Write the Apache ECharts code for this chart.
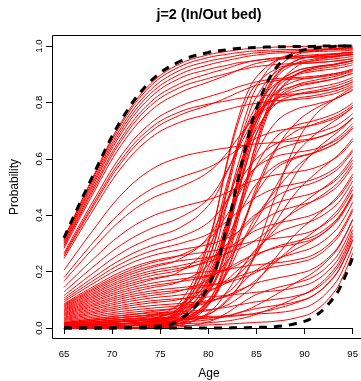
<!DOCTYPE html>
<html>
<head>
<meta charset="utf-8">
<script src="https://cdn.jsdelivr.net/npm/echarts@6/dist/echarts.min.js"></script>
<style>
  html, body { margin: 0; padding: 0; background: #fff; }
  #chart { width: 361px; height: 381px; }
</style>
</head>
<body>
<div id="chart"></div>
<script>
const ages = [65, 68, 71, 74, 77, 80, 82, 83, 84, 85, 87, 89, 91, 93, 94, 95];

// the three black dashed curves
const dashEarly = [0.32, 0.54, 0.74, 0.875, 0.945, 0.977, 0.987, 0.991, 0.993, 0.995, 0.997, 0.998, 0.999, 1, 1, 1];
const dashMiddle = [0, 0, 0.001, 0.005, 0.028, 0.149, 0.368, 0.515, 0.659, 0.779, 0.921, 0.975, 0.992, 0.998, 1, 1];
const dashLate = [0, 0, 0, 0, 0, 0, 0, 0.001, 0.001, 0.002, 0.005, 0.015, 0.04, 0.106, 0.166, 0.251];

// red curves, upper left bundle
const upperCurves = [
  [0.317,0.535,0.733,0.866,0.936,0.969,0.981,0.986,0.990,0.993,0.996,0.998,0.999,1,1,1],
  [0.314,0.529,0.725,0.858,0.926,0.959,0.971,0.976,0.980,0.983,0.986,0.988,0.989,0.991,0.992,0.993],
  [0.309,0.521,0.714,0.844,0.913,0.946,0.959,0.966,0.971,0.976,0.980,0.983,0.985,0.987,0.988,0.989],
  [0.304,0.513,0.703,0.831,0.899,0.933,0.949,0.956,0.963,0.968,0.975,0.977,0.980,0.982,0.983,0.985],
  [0.299,0.505,0.692,0.818,0.885,0.917,0.932,0.940,0.944,0.949,0.955,0.958,0.961,0.964,0.967,0.970],
  [0.293,0.494,0.677,0.801,0.866,0.902,0.921,0.933,0.942,0.949,0.958,0.963,0.965,0.969,0.971,0.974],
  [0.288,0.486,0.666,0.788,0.852,0.885,0.903,0.913,0.920,0.927,0.934,0.938,0.941,0.946,0.950,0.955],
  [0.282,0.475,0.651,0.770,0.834,0.872,0.898,0.913,0.927,0.938,0.951,0.957,0.960,0.964,0.967,0.970],
  [0.266,0.448,0.614,0.726,0.786,0.820,0.841,0.854,0.864,0.873,0.884,0.888,0.893,0.902,0.908,0.918],
  [0.259,0.437,0.599,0.709,0.766,0.794,0.806,0.813,0.817,0.822,0.827,0.830,0.836,0.848,0.858,0.873],
  [0.254,0.429,0.588,0.696,0.754,0.790,0.818,0.834,0.848,0.861,0.877,0.883,0.888,0.897,0.904,0.914],
  [0.246,0.416,0.570,0.674,0.729,0.758,0.775,0.784,0.791,0.797,0.806,0.810,0.817,0.830,0.842,0.858],
  [0.205,0.346,0.474,0.560,0.605,0.628,0.639,0.644,0.649,0.653,0.658,0.664,0.673,0.696,0.716,0.745],
  [0.179,0.302,0.414,0.491,0.533,0.569,0.608,0.632,0.655,0.674,0.698,0.709,0.720,0.741,0.758,0.783],
  [0.166,0.281,0.385,0.457,0.499,0.553,0.623,0.670,0.714,0.751,0.795,0.814,0.824,0.839,0.850,0.865],
  [0.144,0.243,0.333,0.394,0.428,0.455,0.481,0.498,0.513,0.526,0.543,0.553,0.567,0.598,0.625,0.663]
];

// red curves starting between ~0.05 and 0.13
const middleCurves = [
  [0.128,0.216,0.296,0.352,0.391,0.458,0.561,0.628,0.694,0.749,0.814,0.840,0.852,0.865,0.875,0.888],
  [0.115,0.194,0.267,0.318,0.355,0.434,0.557,0.640,0.719,0.786,0.866,0.896,0.910,0.919,0.925,0.933],
  [0.106,0.178,0.244,0.291,0.322,0.374,0.455,0.507,0.559,0.601,0.653,0.675,0.690,0.713,0.733,0.760],
  [0.099,0.167,0.229,0.272,0.299,0.333,0.380,0.410,0.440,0.464,0.496,0.511,0.528,0.562,0.591,0.633],
  [0.093,0.157,0.215,0.255,0.277,0.296,0.319,0.339,0.366,0.401,0.488,0.566,0.621,0.665,0.692,0.725],
  [0.086,0.146,0.200,0.236,0.256,0.271,0.284,0.294,0.301,0.309,0.318,0.328,0.347,0.392,0.433,0.491],
  [0.083,0.140,0.192,0.230,0.257,0.314,0.404,0.464,0.522,0.571,0.629,0.654,0.671,0.695,0.716,0.745],
  [0.080,0.135,0.185,0.219,0.238,0.251,0.266,0.278,0.293,0.314,0.364,0.413,0.453,0.501,0.536,0.585],
  [0.077,0.130,0.178,0.213,0.244,0.323,0.458,0.547,0.633,0.706,0.793,0.827,0.841,0.856,0.867,0.880],
  [0.074,0.124,0.170,0.202,0.221,0.247,0.282,0.305,0.327,0.347,0.370,0.385,0.404,0.446,0.483,0.536],
  [0.070,0.119,0.163,0.194,0.212,0.234,0.265,0.292,0.330,0.380,0.501,0.613,0.684,0.732,0.755,0.783],
  [0.067,0.113,0.155,0.185,0.205,0.242,0.299,0.337,0.374,0.405,0.442,0.462,0.480,0.517,0.550,0.596],
  [0.064,0.108,0.148,0.175,0.190,0.200,0.208,0.214,0.220,0.224,0.231,0.241,0.261,0.312,0.358,0.423],
  [0.061,0.103,0.141,0.170,0.200,0.290,0.446,0.549,0.650,0.734,0.835,0.875,0.888,0.901,0.908,0.918],
  [0.058,0.097,0.133,0.158,0.173,0.187,0.207,0.223,0.246,0.276,0.351,0.421,0.473,0.524,0.559,0.607],
  [0.054,0.092,0.126,0.149,0.164,0.184,0.212,0.231,0.249,0.263,0.284,0.298,0.317,0.365,0.408,0.468],
  [0.051,0.086,0.118,0.142,0.164,0.223,0.324,0.391,0.456,0.511,0.576,0.605,0.622,0.650,0.675,0.708]
];

// red curves starting near zero, rising late
const lowCurves = [
  [0.048,0.081,0.111,0.131,0.143,0.153,0.162,0.172,0.183,0.198,0.238,0.278,0.314,0.368,0.413,0.474],
  [0.045,0.076,0.104,0.123,0.134,0.149,0.167,0.181,0.193,0.203,0.218,0.230,0.250,0.303,0.349,0.416],
  [0.042,0.070,0.096,0.115,0.131,0.172,0.238,0.285,0.328,0.364,0.409,0.431,0.451,0.490,0.525,0.573],
  [0.038,0.065,0.089,0.106,0.117,0.134,0.161,0.186,0.219,0.264,0.375,0.476,0.544,0.599,0.631,0.672],
  [0.035,0.059,0.081,0.096,0.104,0.110,0.116,0.120,0.123,0.127,0.132,0.143,0.165,0.222,0.274,0.348],
  [0.032,0.054,0.074,0.089,0.101,0.128,0.173,0.203,0.232,0.257,0.288,0.306,0.326,0.374,0.416,0.476],
  [0.029,0.049,0.067,0.079,0.087,0.097,0.113,0.127,0.146,0.171,0.234,0.294,0.342,0.401,0.444,0.503],
  [0.026,0.043,0.059,0.070,0.079,0.093,0.116,0.132,0.146,0.160,0.176,0.190,0.212,0.267,0.316,0.386],
  [0.022,0.038,0.052,0.062,0.071,0.090,0.126,0.158,0.204,0.264,0.409,0.541,0.626,0.683,0.711,0.745],
  [0.019,0.032,0.044,0.053,0.058,0.065,0.074,0.081,0.087,0.093,0.102,0.113,0.136,0.195,0.249,0.326],
  [0.016,0.027,0.037,0.045,0.050,0.062,0.082,0.103,0.129,0.163,0.250,0.331,0.391,0.451,0.492,0.546],
  [0.013,0.022,0.030,0.035,0.038,0.041,0.043,0.046,0.048,0.050,0.054,0.064,0.088,0.151,0.208,0.288],
  [0.010,0.016,0.022,0.026,0.029,0.035,0.044,0.053,0.064,0.080,0.118,0.159,0.199,0.261,0.313,0.384],
  [0.006,0.011,0.015,0.018,0.021,0.029,0.042,0.052,0.061,0.069,0.080,0.092,0.117,0.178,0.233,0.311],
  [0.003,0.005,0.007,0.009,0.009,0.011,0.014,0.016,0.018,0.020,0.024,0.035,0.059,0.124,0.183,0.266],
  [0.005,0.008,0.011,0.013,0.015,0.019,0.025,0.031,0.038,0.049,0.075,0.106,0.141,0.205,0.260,0.336],
  [0.011,0.019,0.026,0.031,0.033,0.036,0.040,0.043,0.047,0.053,0.068,0.088,0.117,0.180,0.236,0.314]
];

// red curves around the middle dashed curve
const bandCurves = [
  [0.006,0.011,0.016,0.023,0.046,0.165,0.377,0.520,0.659,0.776,0.913,0.966,0.982,0.989,0.992,0.993],
  [0.013,0.022,0.031,0.040,0.064,0.178,0.381,0.519,0.653,0.764,0.897,0.947,0.964,0.971,0.975,0.978],
  [0.003,0.005,0.008,0.014,0.036,0.152,0.360,0.499,0.636,0.750,0.885,0.937,0.954,0.962,0.967,0.970],
  [0.010,0.016,0.023,0.031,0.053,0.163,0.361,0.494,0.623,0.731,0.859,0.909,0.926,0.935,0.942,0.948],
  [0.019,0.032,0.045,0.057,0.081,0.189,0.379,0.507,0.633,0.738,0.861,0.909,0.926,0.935,0.942,0.948],
  [0.006,0.011,0.016,0.022,0.043,0.148,0.336,0.463,0.587,0.690,0.813,0.860,0.878,0.891,0.900,0.910],
  [0,0,0.001,0.005,0.026,0.137,0.339,0.474,0.606,0.717,0.847,0.898,0.916,0.927,0.933,0.940],
  [0.016,0.027,0.038,0.048,0.070,0.171,0.351,0.472,0.590,0.689,0.806,0.852,0.868,0.882,0.892,0.903],
  [0.003,0.005,0.008,0.013,0.031,0.126,0.297,0.412,0.524,0.618,0.729,0.774,0.792,0.810,0.825,0.843],
  [0.010,0.016,0.023,0.030,0.048,0.133,0.288,0.391,0.491,0.576,0.676,0.717,0.735,0.758,0.775,0.798],
  [0.003,0.005,0.008,0.012,0.026,0.099,0.231,0.319,0.405,0.478,0.565,0.601,0.621,0.650,0.675,0.708],
  [0.006,0.011,0.015,0.020,0.032,0.092,0.197,0.267,0.336,0.395,0.465,0.496,0.516,0.552,0.583,0.626],
  [0,0,0,0.002,0.010,0.054,0.132,0.186,0.238,0.281,0.335,0.361,0.383,0.427,0.466,0.521],
  [0.003,0.005,0.007,0.010,0.016,0.047,0.102,0.140,0.176,0.206,0.244,0.265,0.288,0.338,0.383,0.446],
  [0,0,0,0.001,0.004,0.022,0.055,0.078,0.100,0.119,0.142,0.159,0.183,0.240,0.291,0.363],
  [0,0,0.001,0.003,0.017,0.086,0.213,0.302,0.397,0.486,0.631,0.724,0.776,0.809,0.826,0.846],
  [0.006,0.011,0.015,0.020,0.026,0.050,0.096,0.138,0.198,0.277,0.471,0.645,0.751,0.809,0.832,0.854]
];

// red curves rising just before / just after the middle dashed curve
const bandEdgeCurves = [
  [0.006,0.011,0.016,0.026,0.065,0.244,0.505,0.647,0.766,0.852,0.944,0.975,0.985,0.989,0.992,0.993],
  [0.010,0.016,0.023,0.033,0.071,0.242,0.490,0.624,0.737,0.819,0.907,0.937,0.947,0.954,0.958,0.963],
  [0.016,0.027,0.037,0.046,0.061,0.126,0.282,0.399,0.530,0.653,0.824,0.896,0.922,0.933,0.940,0.947],
  [0.003,0.005,0.007,0.018,0.064,0.298,0.598,0.731,0.829,0.890,0.947,0.963,0.969,0.973,0.975,0.978],
  [0.013,0.022,0.030,0.043,0.089,0.309,0.590,0.716,0.808,0.865,0.918,0.935,0.940,0.946,0.950,0.955],
  [0.003,0.005,0.007,0.012,0.024,0.094,0.262,0.387,0.528,0.661,0.845,0.923,0.950,0.960,0.965,0.969],
  [0.006,0.011,0.015,0.025,0.059,0.216,0.445,0.569,0.674,0.749,0.831,0.859,0.871,0.883,0.892,0.903],
  [0.010,0.016,0.022,0.033,0.074,0.269,0.520,0.631,0.712,0.764,0.812,0.827,0.835,0.848,0.858,0.873],
  [0,0,0.001,0.005,0.027,0.145,0.357,0.500,0.639,0.756,0.893,0.946,0.963,0.971,0.975,0.978],
  [0,0,0,0.003,0.015,0.082,0.246,0.369,0.507,0.637,0.817,0.894,0.922,0.933,0.940,0.947],
  [0.006,0.011,0.015,0.020,0.030,0.082,0.206,0.298,0.402,0.500,0.636,0.696,0.723,0.747,0.765,0.789],
  [0.006,0.011,0.015,0.023,0.053,0.200,0.387,0.471,0.532,0.571,0.608,0.622,0.634,0.660,0.683,0.715]
];

const FONT = '"Liberation Sans", Arial, Helvetica, sans-serif';

const chart = echarts.init(document.getElementById('chart'), null, { renderer: 'canvas' });

const toPoints = (vals) => ages.map((a, i) => [a, vals[i]]);

const allRed = [...upperCurves, ...middleCurves, ...lowCurves, ...bandCurves, ...bandEdgeCurves];

const redSeries = allRed.map((vals) => ({
  type: 'line',
  data: toPoints(vals),
  showSymbol: false,
  smooth: 0.4,
  clip: false,
  silent: true,
  lineStyle: { color: '#ff0000', width: 1 },
}));

const dashSeries = [dashEarly, dashMiddle, dashLate].map((vals) => ({
  type: 'line',
  data: toPoints(vals),
  showSymbol: false,
  smooth: 0.4,
  clip: false,
  silent: true,
  lineStyle: { color: '#000', width: 3, type: [8, 7] },
}));

const option = {
  animation: false,
  backgroundColor: '#fff',
  grid: { left: 64, top: 46, width: 291, height: 282 },
  xAxis: {
    type: 'value',
    min: 65,
    max: 95,
    interval: 5,
    offset: 11,
    axisLine: { show: true, lineStyle: { color: '#000', width: 1 } },
    axisTick: { show: true, length: 6, lineStyle: { color: '#000' } },
    axisLabel: { fontSize: 9.6, fontFamily: FONT, color: '#000', margin: 10 },
    splitLine: { show: false },
  },
  yAxis: {
    type: 'value',
    min: 0,
    max: 1,
    interval: 0.2,
    offset: 12,
    axisLine: { show: true, lineStyle: { color: '#000', width: 1 } },
    axisTick: { show: true, length: 6, lineStyle: { color: '#000' } },
    axisLabel: {
      fontSize: 9.6,
      fontFamily: FONT,
      color: '#000',
      rotate: 90,
      margin: 8,
      formatter: (v) => v.toFixed(1),
    },
    splitLine: { show: false },
  },
  graphic: [
    {
      type: 'rect',
      shape: { x: 52.5, y: 35.5, width: 320, height: 303 },
      style: { fill: null, stroke: '#000', lineWidth: 1 },
      silent: true,
      z: 100,
    },
    {
      type: 'text',
      x: 209,
      y: 15,
      style: {
        text: 'j=2 (In/Out bed)',
        font: 'bold 14.4px ' + FONT,
        fill: '#000',
        textAlign: 'center',
        textVerticalAlign: 'middle',
      },
    },
    {
      type: 'text',
      x: 209,
      y: 374,
      style: {
        text: 'Age',
        font: '12px ' + FONT,
        fill: '#000',
        textAlign: 'center',
        textVerticalAlign: 'middle',
      },
    },
    {
      type: 'text',
      x: 15,
      y: 187,
      rotation: Math.PI / 2,
      style: {
        text: 'Probability',
        font: '12px ' + FONT,
        fill: '#000',
        textAlign: 'center',
        textVerticalAlign: 'middle',
      },
    },
  ],
  series: [...redSeries, ...dashSeries],
};

chart.setOption(option);
</script>
</body>
</html>
